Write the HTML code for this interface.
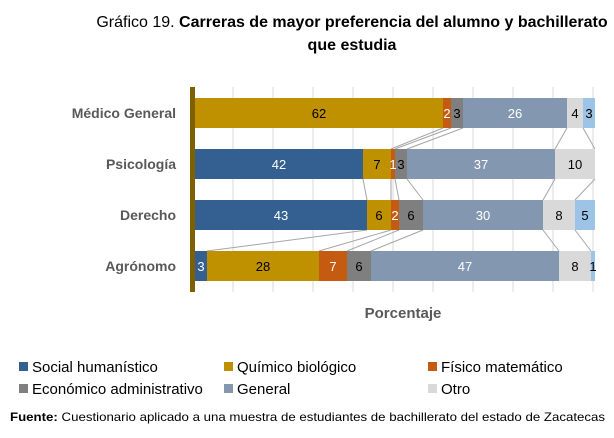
<!DOCTYPE html>
<html><head><meta charset="utf-8"><style>
body{margin:0;background:#fff;}
svg{display:block;font-family:"Liberation Sans",Arial,sans-serif;}
</style></head><body>
<svg id="chart" width="614" height="438" viewBox="0 0 614 438">
<text x="352" y="27" text-anchor="middle" font-size="16" fill="#000">Gráfico 19. <tspan font-weight="bold">Carreras de mayor preferencia del alumno y bachillerato</tspan></text>
<text x="352" y="50" text-anchor="middle" font-size="16" font-weight="bold" fill="#000">que estudia</text>
<g id="grid"></g>
<g id="links"></g>
<g id="bars"></g>
<g id="labels"></g>
<rect x="190" y="87" width="5" height="205" fill="#7f6000"/>
<text x="403" y="318" text-anchor="middle" font-size="15" font-weight="bold" fill="#595959">Porcentaje</text>
<g id="legend"></g>
<text x="10" y="421" font-size="12" fill="#000" textLength="595" lengthAdjust="spacingAndGlyphs"><tspan font-weight="bold">Fuente:</tspan> Cuestionario aplicado a una muestra de estudiantes de bachillerato del estado de Zacatecas</text>
</svg>
<script>
const categories = ["Médico General","Psicología","Derecho","Agrónomo"];
const seriesNames = ["Social humanístico","Químico biológico","Físico matemático","Económico administrativo","General","Otro","Otro2"];
const social = [0,42,43,3];
const quimico = [62,7,6,28];
const fisico = [2,1,2,7];
const economico = [3,3,6,6];
const general = [26,37,30,47];
const otro = [4,10,8,8];
const otro2 = [3,0,5,1];
const series = [social,quimico,fisico,economico,general,otro,otro2];
const colors = ["#335f91","#bf9000","#c55a11","#7f7f7f","#8497b0","#d9d9d9","#9dc3e6"];
const textColors = ["#fff","#000","#fff","#000","#fff","#000","#000"];
const ns="http://www.w3.org/2000/svg";
const X0=195, SCALE=4, Y0=98, PITCH=51, BH=30;
const xs=v=>X0+v*SCALE;
const ys=i=>Y0+i*PITCH;
function mk(tag,attrs,parent){const e=document.createElementNS(ns,tag);for(const k in attrs)e.setAttribute(k,attrs[k]);parent.appendChild(e);return e;}
const grid=document.getElementById('grid');
for(let v=10;v<=100;v+=10){
  const l=mk('line',{x1:xs(v)-2,x2:xs(v)-2,y1:87,y2:292,stroke:'#d9d9d9','stroke-width':1},grid);
  
  
}
const bars=document.getElementById('bars'),labs=document.getElementById('labels'),links=document.getElementById('links');
const cum=categories.map((c,i)=>{let s=0;return series.map(a=>{const st=s;s+=a[i];return [st,s];});});
categories.forEach((c,i)=>{
  const t=mk('text',{x:176,y:ys(i)+BH/2+5,'text-anchor':'end','font-size':14,'font-weight':'bold',fill:'#595959'},labs);
  t.textContent=c;
  
  
  series.forEach((arr,s)=>{
    const v=arr[i]; if(!v) return;
    const [a,b]=cum[i][s];
    const r=mk('rect',{x:xs(a),y:ys(i),width:(b-a)*SCALE,height:BH,fill:colors[s]},bars);
    
    
    const tx=mk('text',{x:xs((a+b)/2),y:ys(i)+BH/2+5,'text-anchor':'middle','font-size':13,fill:textColors[s]},labs);
    tx.textContent=v;
    
    
  });
  if(i<categories.length-1){
    for(let s=0;s<series.length-1;s++){
      if(series[s][i]===0) continue;
      const l=mk('line',{x1:xs(cum[i][s][1]),y1:ys(i)+BH,x2:xs(cum[i+1][s][1]),y2:ys(i+1),stroke:'#a6a6a6','stroke-width':1},links);
      
      
    }
  }
});
const leg=document.getElementById('legend');
const legX=[19,224,428];
seriesNames.slice(0,6).forEach((n,k)=>{
  const x=legX[k%3], y=k<3?367:389;
  const r=mk('rect',{x:x,y:y-5,width:9,height:9,fill:colors[k]},leg);
  
  
  const t=mk('text',{x:x+13,y:y+5,'font-size':15,fill:'#000'},leg);
  t.textContent=n;
  
  
});
</script>
</body></html>
